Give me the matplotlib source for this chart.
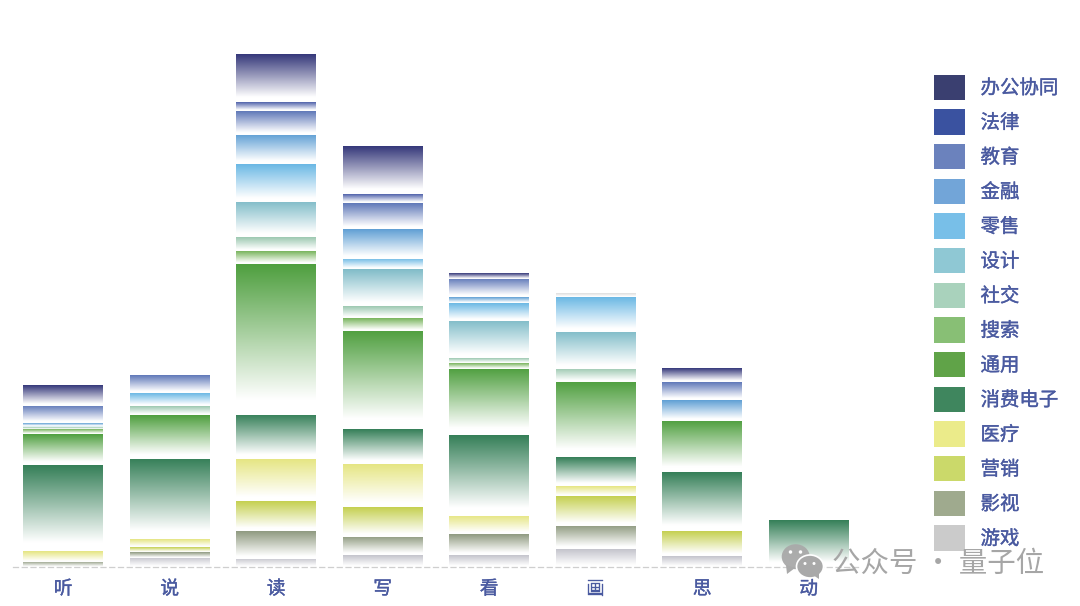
import numpy as np
import matplotlib
matplotlib.use("Agg")
import matplotlib.pyplot as plt
import matplotlib.patheffects as pe
from matplotlib.colors import LinearSegmentedColormap
from matplotlib.patches import Patch, Ellipse, Polygon

plt.rcParams['font.family'] = ['Noto Sans CJK SC', 'DejaVu Sans']

categories = ['听', '说', '读', '写', '看', '画', '思', '动']
series_names = ['办公协同', '法律', '教育', '金融', '零售', '设计', '社交', '搜索',
                '通用', '消费电子', '医疗', '营销', '影视', '游戏']
colors = ['#3a3f70', '#3a52a0', '#6b82bd', '#72a5d8', '#78bfe8', '#8fc8d4', '#a9d2bc',
          '#88bf75', '#60a348', '#3f865e', '#ebeb8a', '#cbd96a', '#9faa8e', '#cbcbcb']
bar_top_colors = ['#35387a', '#3a4fa0', '#5f78b8', '#5f9fd4', '#6bb8e4', '#80bcc8', '#9cc8b0',
                  '#78b45c', '#4f9f3f', '#357f58', '#e5e580', '#c5d050', '#8f9a80', '#c4c4cc']
band_color = '#dedede'

top_band = [0, 0, 0, 0, 0, 3.4, 0, 0]
bangong = [20.7, 0, 47.6, 47.6, 6, 0, 13.4, 0]
falv = [0, 0, 9.7, 9.7, 0, 0, 0, 0]
jiaoyu = [17.3, 17.4, 23.7, 25.3, 18.4, 0, 18, 0]
jinrong = [2.5, 0, 29.3, 30, 6, 0, 20.6, 0]
lingshou = [0, 13, 37.3, 10.7, 18, 34.6, 0, 0]
sheji = [1.5, 0, 35.4, 37, 37, 37, 0, 0]
shejiao = [1.7, 9, 14, 11.3, 4.6, 13.4, 0, 0]
sousuo = [4.6, 0, 13, 13, 6, 0, 0, 0]
tongyong = [31, 43.6, 150.6, 98.7, 66.7, 75.3, 51.4, 0]
xiaofei = [86, 80.7, 44.4, 34.7, 80.7, 29, 59, 46.7]
yiliao = [11, 8, 42.3, 43.3, 18.3, 9.3, 0, 0]
yingxiao = [0, 5, 29.7, 29.3, 0, 30, 25, 0]
yingshi = [5.4, 5.3, 27.6, 18.4, 20.7, 23.4, 0, 0]
youxi = [0, 9.4, 8.4, 12, 12, 18, 11, 0]
series = [top_band, bangong, falv, jiaoyu, jinrong, lingshou, sheji, shejiao, sousuo,
          tongyong, xiaofei, yiliao, yingxiao, yingshi, youxi]
series_colors = [band_color] + bar_top_colors

W, H = 1080, 606
BASE_PX = 567.1
TEXT_BLUE = '#4a5aa0'
fig = plt.figure(figsize=(W / 100, H / 100), dpi=100, facecolor='white')
ax = fig.add_axes([13 / W, (H - BASE_PX) / H, 847 / W, BASE_PX / H])

bar_w = 0.7455
x = np.arange(len(categories))
grad = np.linspace(0, 1, 128).reshape(-1, 1)
bottom = np.zeros(len(categories))
for vals, c in zip(reversed(series), reversed(series_colors)):
    vals = np.array(vals, dtype=float)
    cmap = LinearSegmentedColormap.from_list('g', [(0, c), (0.9, '#ffffff'), (1, '#ffffff')])
    bars = ax.bar(x, vals, bar_w, bottom=bottom, facecolor='none', edgecolor='none', zorder=3)
    for b, v in zip(bars, vals):
        if v <= 0:
            continue
        ax.imshow(grad, cmap=cmap, vmin=0, vmax=1, aspect='auto', interpolation='bilinear',
                  extent=(b.get_x(), b.get_x() + b.get_width(), b.get_y(), b.get_y() + b.get_height()),
                  zorder=2)
    bottom += vals
ax.set_xlim(-0.471, 7.482)
ax.set_ylim(0, BASE_PX)

for s in ('top', 'left', 'right'):
    ax.spines[s].set_visible(False)
ax.spines['bottom'].set_color('#cfcfcf')
ax.spines['bottom'].set_linewidth(0.9)
ax.spines['bottom'].set_linestyle((0, (4, 3)))
ax.set_yticks([])
ax.set_xticks(x, categories)
ax.tick_params(axis='x', length=0, pad=8, labelsize=13.5, labelcolor=TEXT_BLUE)
embolden = [pe.withStroke(linewidth=0.25, foreground=TEXT_BLUE)]
for t in ax.get_xticklabels():
    t.set_path_effects(embolden)

handles = [Patch(facecolor=c, edgecolor='none', label=n) for c, n in zip(colors, series_names)]
fs = 14
fpx = fs * 100 / 72
h_units = 25.4 / fpx
leg = ax.legend(handles=handles, loc='upper left', bbox_to_anchor=(933.5 / W, 1 - 74.7 / H),
                bbox_transform=fig.transFigure, frameon=False, fontsize=fs,
                labelcolor=TEXT_BLUE, borderpad=0, borderaxespad=0,
                handlelength=31 / fpx, handleheight=(h_units - 0.245) / 0.65,
                labelspacing=(34.67 - 25.4) / fpx, handletextpad=(980.5 - 964.5) / fpx)
for t in leg.get_texts():
    t.set_path_effects(embolden)

# Watermark
wm = '#a9a9a9'
fig.add_artist(Ellipse((795.7 / W, 1 - 556.7 / H), 28 / W, 25 / H, transform=fig.transFigure,
                       facecolor=wm, edgecolor='none', alpha=0.95))
fig.add_artist(Polygon([(786 / W, 1 - 565 / H), (787 / W, 1 - 574 / H), (795 / W, 1 - 568 / H)],
                       transform=fig.transFigure, facecolor=wm, edgecolor='none'))
fig.add_artist(Ellipse((810 / W, 1 - 566.5 / H), 27 / W, 23 / H, transform=fig.transFigure,
                       facecolor=wm, edgecolor='white', linewidth=1.2))
fig.add_artist(Polygon([(813 / W, 1 - 575 / H), (819 / W, 1 - 579 / H), (819 / W, 1 - 572 / H)],
                       transform=fig.transFigure, facecolor=wm, edgecolor='none'))
for (cx, cy, r) in [(790.5, 552, 3.5), (800.5, 552, 3.5), (805, 563.5, 3), (814, 563.5, 3)]:
    fig.add_artist(Ellipse((cx / W, 1 - cy / H), r / W, r / H, transform=fig.transFigure,
                           facecolor='white', edgecolor='none'))
fig.text(832 / W, 1 - 564 / H, '公众号 · 量子位', fontsize=20.5, color='#a6a6a6',
         ha='left', va='center')

fig.savefig('out.png', dpi=100, facecolor='white')
